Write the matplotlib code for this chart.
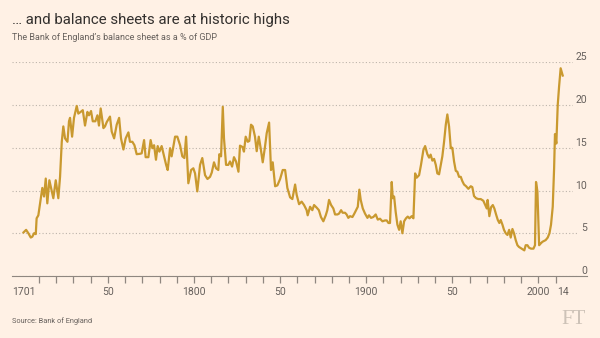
import matplotlib
matplotlib.use('Agg')
import matplotlib.pyplot as plt
from matplotlib.ticker import FixedLocator, FixedFormatter

# Bank of England balance sheet, % of GDP
years = [
    1701.0, 1702.5, 1703.8, 1705.2, 1706.1, 1707.1, 1708.1, 1708.6, 1709.6, 1711.0,
    1711.9, 1712.9, 1713.9, 1714.8, 1716.0, 1717.0, 1718.3, 1719.7, 1721.2, 1722.2,
    1723.2, 1724.1, 1725.1, 1726.5, 1727.4, 1728.0, 1729.2, 1730.3, 1731.9, 1732.8,
    1734.2, 1735.4, 1736.7, 1738.1, 1739.0, 1740.2, 1741.2, 1742.7, 1743.9, 1744.8,
    1745.8, 1747.4, 1748.3, 1749.3, 1751.2, 1752.2, 1753.6, 1755.1, 1756.5, 1757.6,
    1759.0, 1760.3, 1761.9, 1762.8, 1764.2, 1765.4, 1766.7, 1768.7, 1769.6, 1771.0,
    1771.9, 1773.5, 1774.8, 1775.8, 1776.8, 1777.9, 1778.9, 1779.9, 1781.2, 1782.6,
    1783.8, 1784.7, 1786.1, 1787.0, 1789.0, 1790.3, 1791.9, 1793.2, 1794.4, 1795.4,
    1796.7, 1798.3, 1799.6, 1800.6, 1801.9, 1803.5, 1804.8, 1806.4, 1807.8, 1809.3,
    1810.3, 1811.6, 1812.8, 1814.1, 1814.7, 1815.7, 1816.7, 1817.4, 1818.6, 1819.9,
    1820.9, 1822.1, 1823.2, 1824.4, 1825.8, 1826.7, 1828.1, 1829.0, 1830.0, 1831.2,
    1832.1, 1833.1, 1834.1, 1835.4, 1836.4, 1837.6, 1838.7, 1839.9, 1841.2, 1842.2,
    1843.6, 1844.7, 1845.7, 1847.1, 1848.4, 1850.0, 1851.5, 1852.9, 1854.2, 1855.8,
    1857.1, 1858.7, 1859.6, 1861.0, 1862.5, 1863.9, 1865.4, 1866.0, 1867.4, 1868.7,
    1869.7, 1871.2, 1872.5, 1873.7, 1875.1, 1876.5, 1877.4, 1878.4, 1879.6, 1880.9,
    1881.9, 1883.3, 1884.2, 1885.4, 1886.3, 1887.7, 1888.6, 1889.6, 1890.6, 1892.0,
    1893.1, 1894.1, 1895.1, 1896.0, 1896.8, 1898.0, 1899.3, 1900.7, 1901.6, 1902.8,
    1904.1, 1905.5, 1906.7, 1908.0, 1909.4, 1910.9, 1911.9, 1912.9, 1913.8, 1914.8,
    1915.4, 1916.2, 1917.1, 1918.1, 1919.1, 1920.0, 1921.0, 1922.0, 1923.1, 1924.1,
    1925.1, 1926.4, 1927.4, 1928.4, 1929.3, 1930.7, 1931.8, 1933.2, 1934.2, 1935.5,
    1936.5, 1937.4, 1938.4, 1939.4, 1940.4, 1941.3, 1942.3, 1943.3, 1944.2, 1945.2,
    1946.2, 1947.1, 1948.1, 1949.1, 1950.0, 1951.0, 1952.0, 1952.9, 1953.9, 1954.9,
    1955.8, 1956.8, 1958.0, 1959.3, 1960.7, 1961.6, 1962.6, 1963.8, 1965.1, 1966.5,
    1968.0, 1969.0, 1970.0, 1970.5, 1971.5, 1972.5, 1973.5, 1974.4, 1975.4, 1976.4,
    1977.3, 1978.1, 1979.1, 1980.0, 1981.0, 1982.0, 1983.0, 1983.9, 1984.9, 1985.8,
    1986.8, 1987.8, 1988.7, 1990.3, 1991.8, 1992.6, 1993.6, 1994.6, 1995.7, 1997.1,
    1998.0, 1998.6, 1999.4, 2000.4, 2001.3, 2002.3, 2003.3, 2004.2, 2005.4, 2006.4,
    2007.3, 2008.3, 2009.1, 2009.6, 2010.4, 2011.2, 2012.0, 2012.9, 2014.1,
]
pct_gdp = [
    5.1, 5.4, 5.0, 4.5, 4.6, 5.0, 4.9, 6.75, 7.1, 9.1,
    10.3, 9.3, 11.4, 8.5, 11.2, 10.3, 9.1, 11.2, 9.1, 11.6,
    15.7, 17.5, 16.1, 15.7, 18.1, 18.5, 16.3, 18.5, 19.9, 19.0,
    19.2, 19.4, 17.6, 19.2, 18.8, 19.3, 18.1, 18.1, 18.8, 17.6,
    19.6, 17.3, 17.5, 18.0, 18.65, 16.9, 16.1, 17.7, 18.5, 16.1,
    14.8, 16.1, 16.8, 15.7, 15.7, 15.3, 14.25, 14.3, 14.35, 15.9,
    13.9, 13.9, 15.9, 14.95, 15.3, 13.6, 15.2, 14.55, 15.2, 14.0,
    13.0, 12.4, 14.95, 14.0, 16.3, 16.3, 15.3, 14.0, 13.8, 16.3,
    10.85, 12.4, 12.6, 12.0, 9.9, 13.0, 13.8, 11.8, 11.35, 11.6,
    12.1, 13.3, 12.6, 12.4, 14.25, 14.0, 19.8, 16.1, 13.0, 13.0,
    13.4, 12.8, 13.9, 13.4, 12.2, 15.25, 15.1, 14.55, 16.3, 15.7,
    15.8, 17.7, 17.5, 16.3, 14.6, 16.3, 14.95, 13.3, 15.1, 16.7,
    17.95, 12.4, 13.3, 10.5, 10.6, 11.35, 12.4, 12.4, 10.3, 9.2,
    9.0, 10.7, 9.5, 8.4, 8.7, 8.3, 7.7, 7.1, 8.1, 7.7,
    8.3, 8.0, 7.7, 6.9, 6.4, 7.1, 7.7, 8.9, 8.3, 7.9,
    7.2, 7.2, 7.3, 7.7, 7.4, 7.4, 7.2, 6.8, 7.0, 6.9,
    7.3, 7.7, 8.1, 10.1, 8.9, 7.9, 7.3, 6.8, 7.1, 6.8,
    6.9, 7.2, 6.6, 6.7, 6.4, 6.5, 6.5, 6.2, 6.2, 11.0,
    9.1, 9.3, 7.5, 6.0, 5.4, 6.4, 5.0, 6.4, 6.75, 6.95,
    6.75, 7.0, 6.75, 12.0, 11.5, 11.8, 13.0, 14.75, 15.2, 14.25,
    13.85, 14.2, 13.5, 13.7, 13.0, 12.0, 11.9, 13.0, 14.0, 15.7,
    17.7, 18.9, 17.5, 14.95, 15.0, 13.4, 12.3, 12.2, 11.6, 11.6,
    11.1, 10.7, 10.5, 10.2, 10.5, 10.4, 9.35, 9.1, 9.0, 9.0,
    8.8, 8.35, 7.9, 8.9, 7.0, 8.05, 8.3, 7.9, 7.2, 6.55,
    6.2, 6.55, 6.0, 5.4, 5.0, 4.8, 5.4, 4.5, 5.5, 5.0,
    4.2, 3.6, 3.4, 3.2, 3.0, 3.6, 3.6, 3.3, 3.2, 3.2,
    3.6, 11.0, 9.9, 3.6, 3.8, 4.0, 4.1, 4.2, 4.5, 5.0,
    6.0, 8.1, 12.6, 16.6, 15.5, 20.0, 22.2, 24.3, 23.45,
]

label_years = [1701, 1750, 1800, 1850, 1900, 1950, 2000, 2014]
label_text = ['1701', '50', '1800', '50', '1900', '50', '2000', '14']
decades = list(range(1710, 2011, 10))
y_ticks = [0, 5, 10, 15, 20, 25]

BG = '#fff1e5'
LINE = '#c9992f'
GREY = '#66605c'
AXIS = '#8f8780'

plt.rcParams['font.family'] = ['Roboto', 'DejaVu Sans']

fig = plt.figure(figsize=(6, 3.38), dpi=100, facecolor=BG)
ax = fig.add_axes([12 / 600, 62 / 338, 575 / 600, 213.7 / 338])
ax.set_facecolor(BG)

ax.plot(years, pct_gdp, color=LINE, lw=1.6, solid_joinstyle='round', zorder=3)

ax.set_xlim(1694.3, 2028.2)
ax.set_ylim(0, 25)

for s in ['top', 'left', 'right']:
    ax.spines[s].set_visible(False)
ax.spines['bottom'].set_color(AXIS)
ax.spines['bottom'].set_linewidth(0.8)

# year labels sit on mark-less ticks; decade marks hang below the axis line
ax.xaxis.set_major_locator(FixedLocator(label_years))
ax.xaxis.set_major_formatter(FixedFormatter(label_text))
ax.tick_params(axis='x', which='major', length=0, pad=8,
               labelsize=7.5, labelcolor=GREY)
ax.vlines(decades, -7 / 213.7, 0, transform=ax.get_xaxis_transform(),
          colors=AXIS, linewidth=0.9, clip_on=False, zorder=4)

ax.yaxis.tick_right()
ax.set_yticks(y_ticks)
ax.tick_params(axis='y', length=0, pad=0, labelsize=7.5, labelcolor=GREY)
for lab in ax.get_yticklabels():
    lab.set_horizontalalignment('right')
    lab.set_verticalalignment('bottom')
    lab.set_bbox(dict(facecolor=BG, edgecolor='none', pad=1.5))
ax.yaxis.grid(True, color='#bdb4ab', linestyle=(0, (1, 2)), linewidth=0.8)
ax.set_axisbelow(True)

fig.text(12 / 600, 1 - 20 / 338, '\u2026 and balance sheets are at historic highs',
         fontsize=10.8, color='#33302e', va='center', ha='left')
fig.text(12 / 600, 1 - 38 / 338, 'The Bank of England\u2019s balance sheet as a % of GDP',
         fontsize=6.5, color=GREY, va='center', ha='left')
fig.text(12 / 600, 1 - 321 / 338, 'Source: Bank of England',
         fontsize=5.3, color=GREY, va='center', ha='left')
fig.text(586 / 600, 1 - 320 / 338, 'FT', family='Liberation Serif',
         fontsize=15, color='#cdc2b7', va='center', ha='right')

fig.savefig('out.png', dpi=100, facecolor=BG)
